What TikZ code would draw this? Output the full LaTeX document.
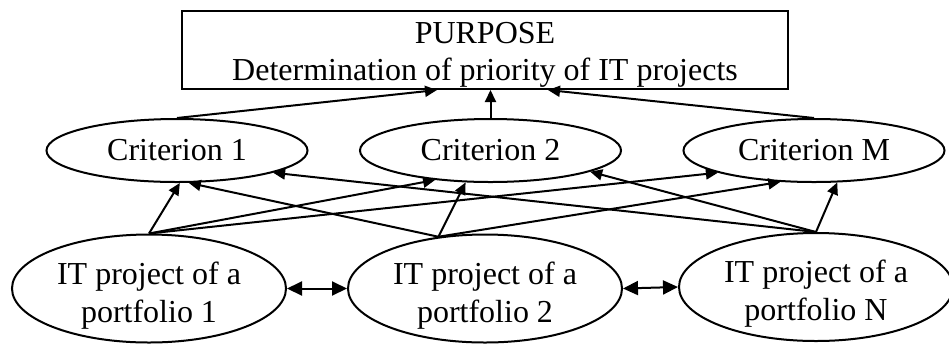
\documentclass[tikz,border=0pt]{standalone}
\usepackage{fontspec}
\setmainfont{Liberation Serif}
\usetikzlibrary{arrows.meta,shapes.geometric}
\begin{document}
\begin{tikzpicture}[x=0.5pt,y=-0.5pt,
  every node/.style={font=\fontsize{16}{18.5}\selectfont, align=center},
  box/.style={draw, line width=1pt, rectangle, minimum width=303pt, minimum height=39pt, inner sep=0pt, text height=31pt, text depth=1pt},
  crit/.style={draw, line width=1pt, ellipse, minimum width=130.5pt, minimum height=31.5pt, inner sep=0pt},
  proj/.style={draw, line width=1pt, ellipse, minimum width=137pt, minimum height=54pt, inner sep=0pt, font=\fontsize{16}{19}\selectfont, text height=34pt, text depth=0.5pt},
  link/.style={line width=1pt, -{Triangle[length=6pt,width=5.5pt]}},
  both/.style={line width=1pt, {Triangle[length=7.5pt,width=7pt]}-{Triangle[length=7.5pt,width=7pt]}}
]
\useasboundingbox (0,0) rectangle (949,344);
\node[box] (purpose) at (485,50) {PURPOSE\\Determination of priority of IT projects};
\node[crit] (c1) at (177,150.5) {Criterion 1};
\node[crit] (c2) at (490.5,150.5) {Criterion 2};
\node[crit] (cM) at (814,150.5) {Criterion M};
\node[proj] (p1) at (149,288.5) {IT project of a\\portfolio 1};
\node[proj] (p2) at (485,288.5) {IT project of a\\portfolio 2};
\node[proj] (pN) at (816,287) {IT project of a\\portfolio N};
\draw[link] (c1.north) -- ([xshift=-24pt]purpose.south);
\draw[link] (c2.north) -- (c2.north |- purpose.south);
\draw[link] (cM.north) -- ([xshift=31.5pt]purpose.south);
\draw[link] (p1.north) -- (c1.-85);
\draw[link] (p1.north) -- (c2.-152);
\draw[link] (p1.north) -- (cM.-167.6);
\draw[link] (p2.132.4) -- (c1.-70);
\draw[link] (p2.132.4) -- (c2.-128);
\draw[link] (p2.132.4) -- (cM.-137);
\draw[link] (pN.north) -- (c1.-13);
\draw[link] (pN.north) -- (c2.-12);
\draw[link] (pN.north) -- (cM.-54);
\draw[both] (p1.east) -- (p2.west);
\draw[both] (p2.east) -- (pN.west);
\end{tikzpicture}
\end{document}
